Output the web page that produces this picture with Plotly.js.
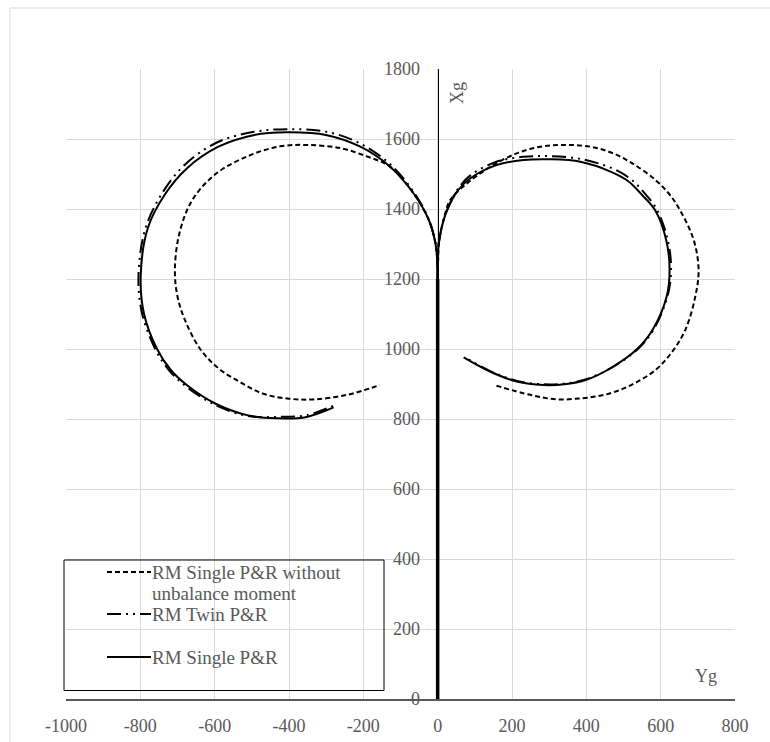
<!DOCTYPE html>
<html>
<head>
<meta charset="utf-8">
<script src="https://cdn.plot.ly/plotly-3.0.1.min.js"></script>
<style>
html,body{margin:0;padding:0;background:#fff;overflow:hidden;}
#chart{width:770px;height:742px;}
</style>
</head>
<body>
<div id="chart"></div>
<script>
// ---------- data ----------
const seriesNames = ["RM Single P&R without unbalance moment", "RM Twin P&R", "RM Single P&R"];
const legendLines = [["RM Single P&R without", "unbalance moment"], ["RM Twin P&R"], ["RM Single P&R"]];

const xTicks = [-1000, -800, -600, -400, -200, 0, 200, 400, 600, 800];
const yTicks = [0, 200, 400, 600, 800, 1000, 1200, 1400, 1600, 1800];

// straight approach path along Xg axis
const approachX = [0, 0];
const approachY = [0, 1200];

// RM Single P&R without unbalance moment (dashed)
const noUnbLeftX = [0, -1, -6, -24, -65, -128, -190, -262, -352, -424, -504, -595, -660, -695, -707, -700, -680, -639, -590, -531, -469, -400, -334, -244, -156];
const noUnbLeftY = [1200, 1250, 1302, 1369, 1445, 1521, 1550, 1574, 1583, 1579, 1554, 1502, 1426, 1330, 1226, 1150, 1083, 1000, 945, 905, 872, 858, 856, 869, 897];
const noUnbRightX = [0, 1, 3, 16, 34, 79, 142, 213, 276, 339, 411, 470, 523, 586, 625, 653, 689, 702, 693, 666, 626, 586, 540, 491, 440, 384, 321, 249, 152];
const noUnbRightY = [1200, 1250, 1302, 1369, 1426, 1473, 1521, 1559, 1578, 1583, 1578, 1560, 1531, 1483, 1440, 1395, 1311, 1226, 1149, 1054, 985, 940, 908, 883, 867, 859, 856, 869, 897];

// RM Twin P&R (dash-dot-dot)
const twinLeftX = [0, -1, -6, -25, -67, -130, -210, -300, -405, -498, -594, -681, -742, -787, -805, -795, -759, -721, -678, -602, -513, -430, -352, -276];
const twinLeftY = [1200, 1250, 1304, 1373, 1452, 1530, 1588, 1621, 1628, 1620, 1590, 1526, 1444, 1342, 1207, 1100, 998, 937, 894, 842, 809, 806, 811, 840];
const twinRightX = [0, 1, 3, 17, 35, 57, 88, 158, 230, 300, 384, 470, 520, 556, 590, 619, 628, 618, 580, 538, 467, 400, 340, 285, 213, 143, 75];
const twinRightY = [1200, 1250, 1302, 1372, 1421, 1461, 1496, 1535, 1549, 1551, 1543, 1516, 1485, 1446, 1398, 1312, 1226, 1149, 1054, 999, 946, 914, 901, 899, 909, 936, 975];

// RM Single P&R (solid)
const singleLeftX = [0, -1, -6, -24, -65, -128, -208, -298, -405, -496, -590, -675, -735, -780, -799, -790, -755, -718, -675, -600, -513, -432, -352, -280];
const singleLeftY = [1200, 1250, 1302, 1369, 1445, 1521, 1578, 1611, 1619, 1611, 1578, 1516, 1440, 1345, 1207, 1100, 1000, 940, 897, 845, 811, 802, 806, 833];
const singleRightX = [0, 1, 3, 16, 34, 56, 88, 160, 231, 303, 384, 465, 512, 550, 586, 615, 624, 616, 578, 536, 465, 400, 340, 285, 213, 142, 70];
const singleRightY = [1200, 1250, 1302, 1369, 1416, 1455, 1488, 1526, 1540, 1542, 1535, 1507, 1480, 1440, 1395, 1311, 1226, 1149, 1054, 999, 945, 912, 899, 897, 907, 935, 976];

// ---------- build traces ----------
function path(leftX, leftY, rightX, rightY) {
  return {
    x: approachX.concat(leftX.slice(1), [null], rightX),
    y: approachY.concat(leftY.slice(1), [null], rightY)
  };
}
const styles = [
  {dash: "5px,3px", width: 2},
  {dash: "14px,5px,2px,5px,2px,5px", width: 2},
  {dash: "solid", width: 2}
];
const paths = [
  path(noUnbLeftX, noUnbLeftY, noUnbRightX, noUnbRightY),
  path(twinLeftX, twinLeftY, twinRightX, twinRightY),
  path(singleLeftX, singleLeftY, singleRightX, singleRightY)
];
const traces = paths.map((p, i) => ({
  type: "scatter",
  mode: "lines",
  name: seriesNames[i],
  x: p.x,
  y: p.y,
  connectgaps: false,
  line: {color: "#000000", width: styles[i].width, dash: styles[i].dash, shape: "spline", smoothing: 1},
  showlegend: false,
  hoverinfo: "x+y+name"
}));
// approach line drawn heavier, as in the reference (several overlapping runs)
traces.push({
  type: "scatter", mode: "lines", name: "approach", x: approachX, y: approachY,
  line: {color: "#000000", width: 3.5}, showlegend: false, hoverinfo: "skip"
});

// ---------- layout ----------
const W = 770, H = 742;
const M = {l: 66, r: 35, t: 69, b: 43};
const pw = W - M.l - M.r, ph = H - M.t - M.b;
const px2x = px => (px - M.l) / pw;
const py2y = py => (H - M.b - py) / ph;

const font = {family: "'Liberation Serif', 'Times New Roman', serif", size: 18, color: "#595959"};
const legendFont = {family: "'Liberation Serif', 'Times New Roman', serif", size: 19, color: "#595959"};

const shapes = [
  // outer chart frame
  {type: "rect", xref: "paper", yref: "paper", x0: px2x(10), x1: px2x(900), y0: py2y(900), y1: py2y(8),
   line: {color: "#d9d9d9", width: 1}, fillcolor: "rgba(0,0,0,0)", layer: "below"},
  // legend box
  {type: "rect", xref: "paper", yref: "paper", x0: px2x(64), x1: px2x(384), y0: py2y(690.5), y1: py2y(560),
   line: {color: "#000000", width: 1}, fillcolor: "rgba(0,0,0,0)", layer: "above"}
];
const legendY = [572, 614, 657];
const annotations = [];
legendY.forEach((py, i) => {
  shapes.push({type: "line", xref: "paper", yref: "paper", x0: px2x(107), x1: px2x(151), y0: py2y(py), y1: py2y(py),
    line: {color: "#000000", width: styles[i].width, dash: styles[i].dash}, layer: "above"});
  legendLines[i].forEach((t, k) => {
    annotations.push({xref: "paper", yref: "paper", x: px2x(150), y: py2y(py + k * 21),
      xanchor: "left", yanchor: "middle", align: "left", showarrow: false,
      text: t, font: legendFont});
  });
});
annotations.push({xref: "paper", yref: "paper", x: px2x(457), y: py2y(93), text: "Xg", textangle: -90,
  showarrow: false, font: font, xanchor: "center", yanchor: "middle"});
annotations.push({xref: "paper", yref: "paper", x: px2x(706), y: py2y(676), text: "Yg",
  showarrow: false, font: font, xanchor: "center", yanchor: "middle"});

const layout = {
  width: W, height: H,
  margin: M,
  paper_bgcolor: "#ffffff",
  plot_bgcolor: "#ffffff",
  font: font,
  showlegend: false,
  xaxis: {
    range: [-1000, 800], tickvals: xTicks, ticktext: xTicks.map(String),
    showgrid: true, gridcolor: "#d9d9d9", gridwidth: 1,
    zeroline: false, showline: true, linecolor: "#595959", linewidth: 1.5,
    ticks: "", ticklabelstandoff: 10, tickfont: font, fixedrange: true
  },
  yaxis: {
    range: [0, 1800], tickvals: yTicks, ticktext: yTicks.map(String),
    showgrid: true, gridcolor: "#d9d9d9", gridwidth: 1,
    zeroline: false, showline: true, linecolor: "#000000", linewidth: 1,
    anchor: "free", position: 1000 / 1800, side: "left",
    ticks: "", ticklabelstandoff: 14, tickfont: font, fixedrange: true
  },
  shapes: shapes,
  annotations: annotations
};

Plotly.newPlot("chart", traces, layout, {displayModeBar: false, staticPlot: true});
</script>
</body>
</html>
